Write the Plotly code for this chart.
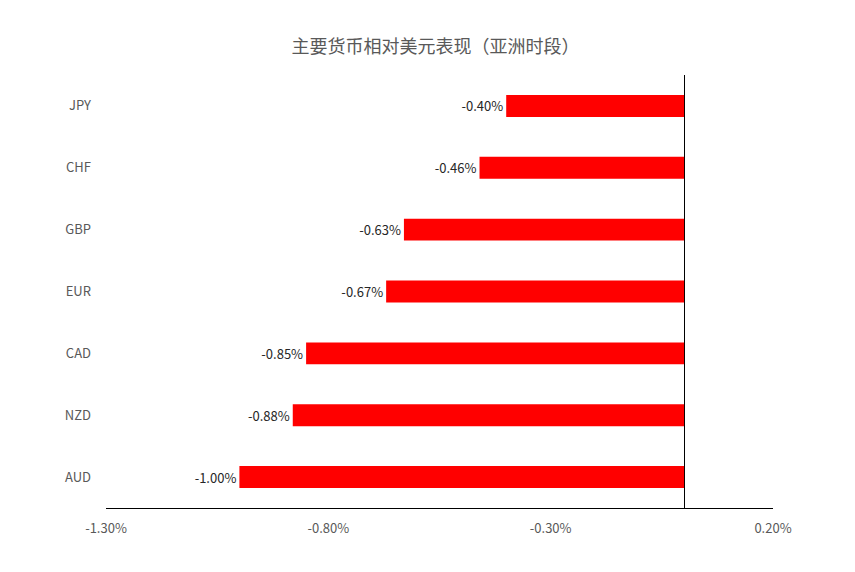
import plotly.graph_objects as go

# 主要货币相对美元表现（亚洲时段），单位 %
currencies = ["AUD", "NZD", "CAD", "EUR", "GBP", "CHF", "JPY"]
changes = [-1.00, -0.88, -0.85, -0.67, -0.63, -0.46, -0.40]
tick_values = [-1.3, -0.8, -0.3, 0.2]
tick_labels = ["-1.30%", "-0.80%", "-0.30%", "0.20%"]

font_family = "Noto Sans CJK SC, Noto Sans, sans-serif"

fig = go.Figure(
    go.Bar(
        x=changes,
        y=currencies,
        orientation="h",
        marker=dict(color="#ff0000", line=dict(width=0)),
        text=[f"{v:.2f}%" for v in changes],
        textposition="outside",
        textfont=dict(size=13, color="#262626", family=font_family),
        cliponaxis=False,
        hoverinfo="skip",
    )
)

# 页面自带 8px 边距，这里整体往左上挪一点
fig.update_layout(
    width=855,
    height=572,
    paper_bgcolor="white",
    plot_bgcolor="white",
    showlegend=False,
    bargap=0.645,
    margin=dict(l=98, r=90, t=67, b=72),
    font=dict(family=font_family, size=13, color="#595959"),
    title=dict(
        text="主要货币相对美元表现（亚洲时段）",
        x=0.5,
        xanchor="center",
        y=0.932,
        yanchor="middle",
        font=dict(size=18, color="#595959", family=font_family),
    ),
)

fig.update_xaxes(
    range=[-1.3, 0.2],
    tickvals=tick_values,
    ticktext=tick_labels,
    showgrid=False,
    zeroline=True,
    zerolinecolor="black",
    zerolinewidth=1,
    showline=True,
    linecolor="black",
    linewidth=1,
    ticks="",
    ticklabelstandoff=8,
    tickfont=dict(size=13, color="#595959"),
)

fig.update_yaxes(
    showgrid=False,
    zeroline=False,
    showline=False,
    ticks="",
    ticklabelstandoff=14,
    tickfont=dict(size=13, color="#595959"),
)

fig.write_html("out.html")
